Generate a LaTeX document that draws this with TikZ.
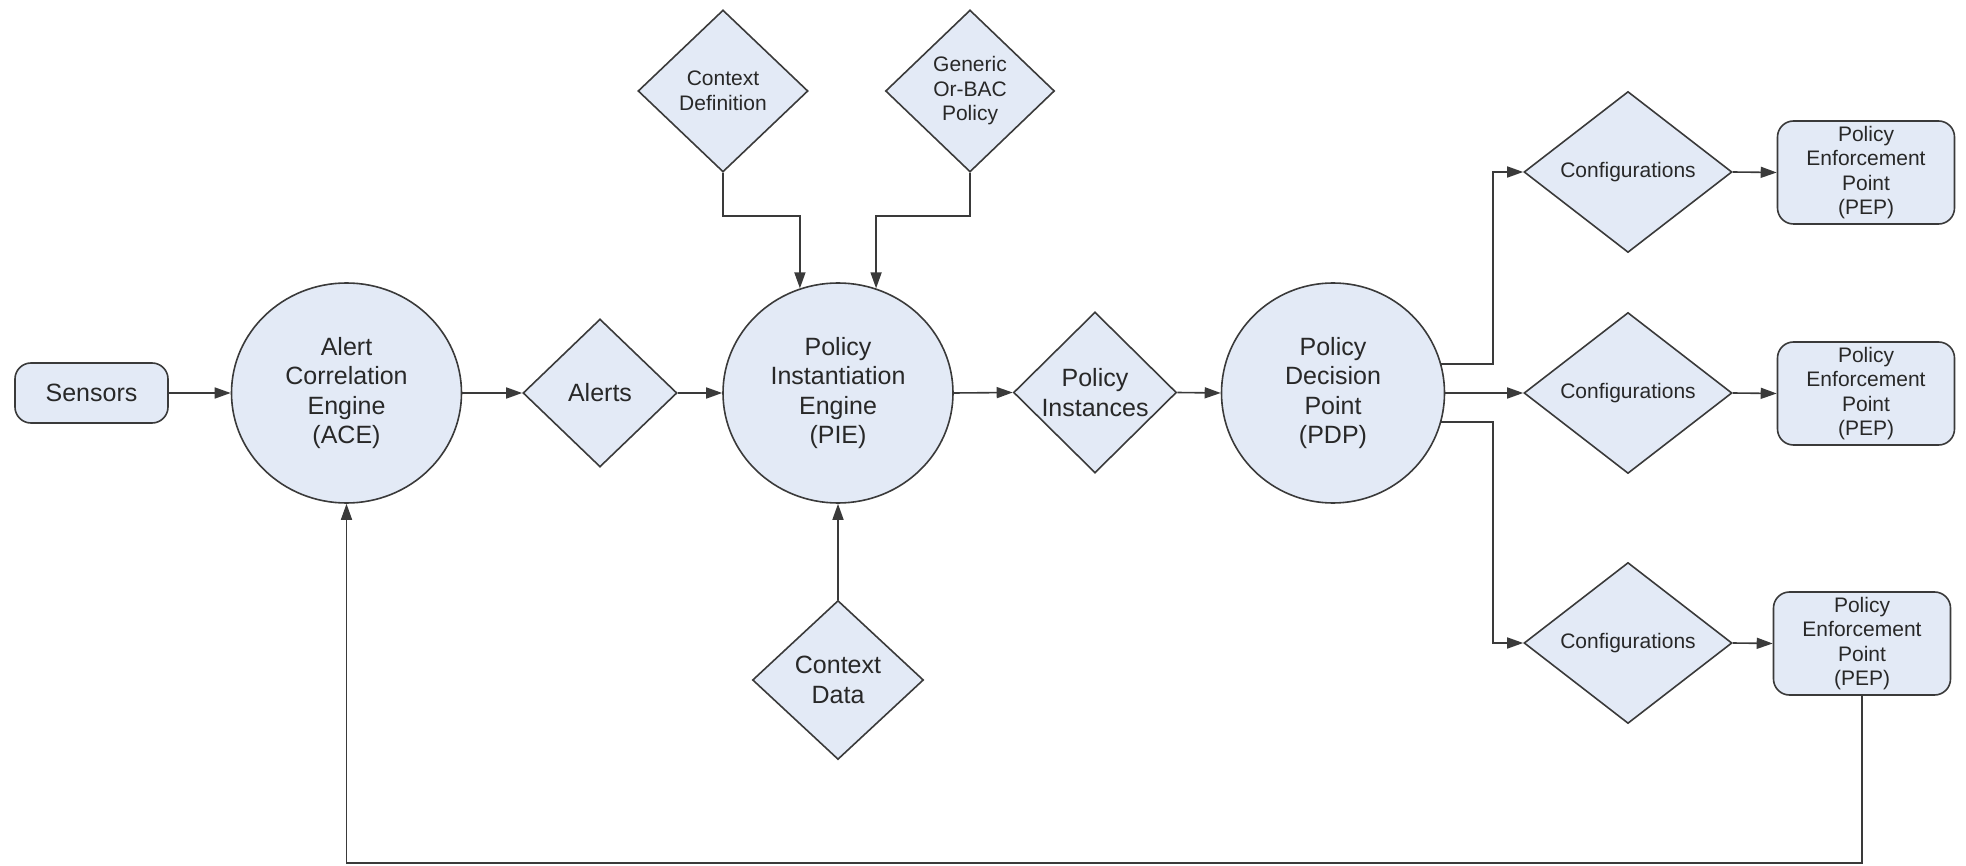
\documentclass[tikz,border=0pt]{standalone}
\usepackage{fontspec}
\setmainfont{Liberation Sans}
\usetikzlibrary{shapes.geometric,arrows.meta}

\definecolor{fillc}{RGB}{227,234,246}
\definecolor{linec}{RGB}{58,58,58}
\definecolor{textc}{RGB}{40,40,40}

\newcommand{\bigtxt}{\fontsize{25}{29.5}\selectfont}
\newcommand{\smalltxt}{\fontsize{21}{24.5}\selectfont}

\tikzset{
  base/.style={draw=linec, fill=fillc, line width=1.6pt, text=textc,
               align=center, inner sep=0pt},
  engine/.style={base, ellipse, minimum width=230pt, minimum height=220pt, font=\bigtxt},
  datum/.style={base, diamond, shape aspect=1},
  rbox/.style={base, rectangle, rounded corners=16pt},
  pepbox/.style={rbox, minimum width=177pt, minimum height=103pt, font=\smalltxt},
  confdia/.style={datum, minimum width=208pt, minimum height=161pt, font=\smalltxt},
  arr/.style={draw=linec, line width=1.6pt, -{Triangle[length=16pt,width=11pt]}},
  wire/.style={draw=linec, line width=1.6pt}
}

\begin{document}
\begin{tikzpicture}[x=1pt,y=-1pt]
  \useasboundingbox (0,0) rectangle (1966,866);

  % main pipeline
  \node[rbox, minimum width=153pt, minimum height=60pt, font=\bigtxt] (sensors) at (91.5,393) {Sensors};
  \node[engine] (ace) at (346.5,393) {Alert\\Correlation\\Engine\\(ACE)};
  \node[datum, minimum width=154pt, minimum height=148pt, font=\bigtxt] (alerts) at (600,393) {Alerts};
  \node[engine] (pie) at (838,393) {Policy\\Instantiation\\Engine\\(PIE)};
  \node[datum, minimum width=163pt, minimum height=161pt, font=\bigtxt] (inst) at (1095,392.5) {Policy\\Instances};
  \node[engine, minimum width=223pt] (pdp) at (1333,393) {Policy\\Decision\\Point\\(PDP)};

  % inputs of the instantiation engine
  \node[datum, minimum width=170pt, minimum height=162pt, font=\smalltxt] (cdef) at (723,91) {Context\\Definition};
  \node[datum, minimum width=169pt, minimum height=162pt, font=\smalltxt] (gen) at (970,91) {Generic\\Or-BAC\\Policy};
  \node[datum, minimum width=171pt, minimum height=159pt, font=\bigtxt] (cdata) at (838,680) {Context\\Data};

  % configurations and enforcement points
  \node[confdia] (conf1) at (1628,172) {Configurations};
  \node[confdia] (conf2) at (1628,393) {Configurations};
  \node[confdia] (conf3) at (1628,643) {Configurations};
  \node[pepbox] (pep1) at (1866,172.5) {Policy\\Enforcement\\Point\\(PEP)};
  \node[pepbox] (pep2) at (1866,393.5) {Policy\\Enforcement\\Point\\(PEP)};
  \node[pepbox] (pep3) at (1862,643.5) {Policy\\Enforcement\\Point\\(PEP)};

  % routing helpers
  \coordinate (kink) at (0,216);
  \coordinate (branch) at (1493,0);
  \coordinate (loop) at (0,863);

  % connectors
  \draw[arr] (sensors.east) -- (ace.west);
  \draw[arr] (ace.east) -- (alerts.west);
  \draw[arr] (alerts.east) -- (pie.west);
  \draw[arr] (pie.east) -- (inst.west);
  \draw[arr] (inst.east) -- (pdp.west);

  \draw[arr] (cdef.south) |- (pie.110 |- kink) -- (pie.110);
  \draw[arr] (gen.south) |- (pie.70 |- kink) -- (pie.70);
  \draw[arr] (cdata.north) -- (pie.south);

  \draw[arr] (pdp.15) -- (pdp.15 -| branch) |- (conf1.west);
  \draw[arr] (pdp.east) -- (conf2.west);
  \draw[arr] (pdp.-15) -- (pdp.-15 -| branch) |- (conf3.west);

  \draw[arr] (conf1.east) -- (pep1.west);
  \draw[arr] (conf2.east) -- (pep2.west);
  \draw[arr] (conf3.east) -- (pep3.west);

  % feedback loop back to the correlation engine
  \draw[arr] (pep3.south) |- (ace.south |- loop) -- (ace.south);
\end{tikzpicture}
\end{document}
